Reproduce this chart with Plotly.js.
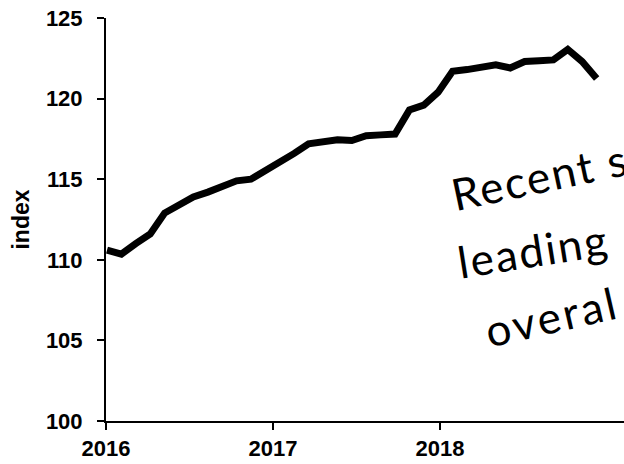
<!DOCTYPE html>
<html>
<head>
<meta charset="utf-8">
<script src="https://cdn.plot.ly/plotly-3.0.1.min.js"></script>
<style>
  html, body { margin: 0; padding: 0; background: #ffffff; }
  #chart { width: 624px; height: 464px; }
</style>
</head>
<body>
<div id="chart"></div>
<script>
const years = [
  2016.006, 2016.092, 2016.178, 2016.265, 2016.351, 2016.437, 2016.523, 2016.610,
  2016.696, 2016.782, 2016.868, 2016.954, 2017.041, 2017.127, 2017.213, 2017.299,
  2017.386, 2017.472, 2017.558, 2017.644, 2017.731, 2017.817, 2017.903, 2017.989,
  2018.075, 2018.162, 2018.248, 2018.334, 2018.420, 2018.507, 2018.593, 2018.679,
  2018.765, 2018.851, 2018.938
];
const indexValues = [
  110.6, 110.35, 111.0, 111.6, 112.9, 113.4, 113.9, 114.2,
  114.6, 114.9, 115.0, 115.5, 116.1, 116.6, 117.2, 117.3,
  117.45, 117.4, 117.7, 117.75, 117.8, 119.3, 119.6, 120.4,
  121.7, 121.8, 121.95, 122.1, 121.9, 122.3, 122.35, 122.4,
  123.05, 122.3, 121.25
];
const xTickVals = [2016, 2017, 2018];
const xTickText = ['2016', '2017', '2018'];
const yTickVals = [100, 105, 110, 115, 120, 125];
const yTickText = ['100', '105', '110', '115', '120', '125'];
const noteLines = ['Recent s', 'leading', 'overal'];

const W = 624, H = 464;
const M = { l: 106, r: 0, t: 18, b: 43 };
const pw = W - M.l - M.r, ph = H - M.t - M.b;
function px2paperX(px) { return (px - M.l) / pw; }
function px2paperY(py) { return (H - M.b - py) / ph; }

const notePos = [
  { x: 540, y: 176, angle: -12, spacing: 2 },
  { x: 533, y: 250, angle: -9, spacing: 2 },
  { x: 552, y: 316, angle: -13, spacing: 3 }
];

const handFont = { family: 'Lato, "Open Sans", sans-serif', size: 44, color: '#000000', weight: 400 };

const annotations = noteLines.map((t, i) => ({
  text: '<span style="letter-spacing:' + notePos[i].spacing + 'px">' + t + '</span>',
  xref: 'paper', yref: 'paper',
  x: px2paperX(notePos[i].x), y: px2paperY(notePos[i].y),
  xanchor: 'center', yanchor: 'middle',
  textangle: notePos[i].angle,
  showarrow: false,
  font: handFont
}));

const trace = {
  x: years,
  y: indexValues,
  type: 'scatter',
  mode: 'lines',
  line: { color: '#000000', width: 7 },
  hoverinfo: 'skip'
};

const tickFont = { family: '"Liberation Sans", Arial, sans-serif', size: 22, color: '#000000', weight: 'bold' };

const layout = {
  width: W, height: H,
  margin: M,
  paper_bgcolor: '#ffffff',
  plot_bgcolor: '#ffffff',
  showlegend: false,
  xaxis: {
    type: 'linear',
    range: [2016, 2016 + pw / 167],
    tickvals: xTickVals,
    ticktext: xTickText,
    ticks: 'outside', ticklen: 7, tickwidth: 2, tickcolor: '#000000',
    showline: true, linecolor: '#000000', linewidth: 2,
    showgrid: false, zeroline: false,
    tickfont: tickFont,
    fixedrange: true
  },
  yaxis: {
    range: [100, 125],
    tickvals: yTickVals,
    ticktext: yTickText,
    ticks: 'outside', ticklen: 7, tickwidth: 2, tickcolor: '#000000',
    showline: true, linecolor: '#000000', linewidth: 2,
    showgrid: false, zeroline: false,
    tickfont: tickFont,
    ticklabelstandoff: 10,
    title: { text: 'index', font: { family: '"Liberation Sans", Arial, sans-serif', size: 23, color: '#000000', weight: 'bold' }, standoff: 10 },
    fixedrange: true
  },
  annotations: annotations
};

Plotly.newPlot('chart', [trace], layout, { displayModeBar: false, staticPlot: true });
</script>
</body>
</html>
